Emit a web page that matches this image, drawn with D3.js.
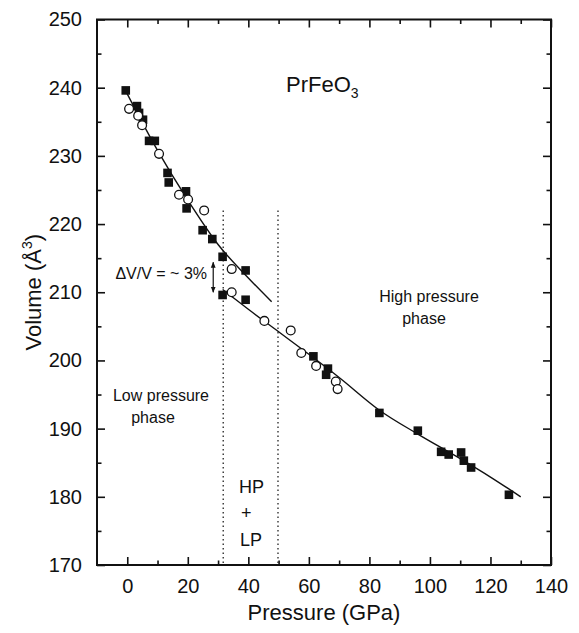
<!DOCTYPE html>
<html>
<head>
<meta charset="utf-8">
<script src="https://cdn.jsdelivr.net/npm/d3@7"></script>
<style>
  body { margin: 0; background: #fff; }
  svg text { font-family: "Liberation Sans", Arial, Helvetica, sans-serif; fill: #111; }
</style>
</head>
<body>
<div id="chart"></div>
<script>
// ---- data ----
const xTicks = [0, 20, 40, 60, 80, 100, 120, 140];
const xMinor = [10, 30, 50, 70, 90, 110, 130];
const yTicks = [170, 180, 190, 200, 210, 220, 230, 240, 250];
const yMinor = [175, 185, 195, 205, 215, 225, 235, 245];

// filled squares [P (GPa), V (A^3)]
const squares = [
  [-0.5, 239.6], [3.2, 237.3], [3.9, 236.3], [5.2, 235.3], [7.2, 232.2],
  [9.1, 232.2], [13.3, 227.5], [13.7, 226.1], [19.4, 224.8], [19.6, 222.3],
  [24.9, 219.1], [28.1, 217.8], [31.5, 215.2], [39.1, 213.2], [31.5, 209.6],
  [39.1, 208.9], [61.5, 200.6], [66.3, 198.8], [65.7, 197.9], [83.3, 192.3],
  [96.0, 189.7], [103.7, 186.6], [106.2, 186.2], [110.3, 186.5], [111.2, 185.3],
  [113.6, 184.3], [126.1, 180.3]
];

// open circles
const circles = [
  [0.6, 236.9], [3.6, 235.9], [4.9, 234.5], [10.5, 230.3], [17.1, 224.3],
  [20.1, 223.6], [25.4, 222.0], [34.5, 213.4], [34.5, 210.0], [45.3, 205.8],
  [54.0, 204.4], [57.5, 201.1], [62.4, 199.2], [68.9, 196.9], [69.5, 195.8]
];

// fitted curves
const lpFit = [[-0.5, 239.5], [10, 230.8], [20, 223.5], [30, 217.0], [40, 212.1], [47.7, 208.6]];
const hpFit = [[31.5, 210.4], [40, 207.5], [50, 204.2], [60, 200.9], [70, 197.5],
               [83.3, 192.7], [96, 189.2], [110, 185.6], [120, 182.9], [130, 180.0]];

const phaseBounds = [31.7, 49.8];   // dotted lines
const boundTop = 222;
const jump = [28.4, 214.4, 210.0];  // P, V top, V bottom of the arrow

// ---- layout ----
const W = 579, H = 633;
const margin = {top: 19.5, right: 28, bottom: 68, left: 97};
const width = W - margin.left - margin.right;
const height = H - margin.top - margin.bottom;

const svg = d3.select("#chart").append("svg")
    .attr("width", W)
    .attr("height", H);

const defs = svg.append("defs");
defs.append("marker")
    .attr("id", "arrow")
    .attr("viewBox", "0 0 10 10")
    .attr("refX", 9).attr("refY", 5)
    .attr("markerWidth", 6).attr("markerHeight", 6)
    .attr("markerUnits", "userSpaceOnUse")
    .attr("orient", "auto-start-reverse")
    .append("path")
    .attr("d", "M0,1L10,5L0,9Z")
    .attr("fill", "#111");

const g = svg.append("g")
    .attr("transform", "translate(" + margin.left + "," + margin.top + ")");

const x = d3.scaleLinear().domain([-10, 140]).range([0, width]);
const y = d3.scaleLinear().domain([170, 250]).range([height, 0]);

// ---------------------------//
//        AXES / FRAME        //
// ---------------------------//
function styleAxis(sel) {
  sel.select(".domain").remove();
  sel.selectAll(".tick line").attr("stroke", "#111").attr("stroke-width", 1.6);
  sel.selectAll(".tick text").attr("font-size", 20).attr("fill", "#111");
}

g.append("g").attr("transform", "translate(0," + height + ")")
    .call(d3.axisBottom(x).tickValues(xTicks).tickSize(-8).tickPadding(14).tickFormat(d3.format("d")))
    .call(styleAxis);
g.append("g").attr("transform", "translate(0," + height + ")")
    .call(d3.axisBottom(x).tickValues(xMinor).tickSize(-4.5).tickFormat(""))
    .call(styleAxis);
g.append("g")
    .call(d3.axisTop(x).tickValues(xTicks).tickSize(-8).tickFormat(""))
    .call(styleAxis);
g.append("g")
    .call(d3.axisTop(x).tickValues(xMinor).tickSize(-4.5).tickFormat(""))
    .call(styleAxis);

g.append("g")
    .call(d3.axisLeft(y).tickValues(yTicks).tickSize(-8).tickPadding(15).tickFormat(d3.format("d")))
    .call(styleAxis);
g.append("g")
    .call(d3.axisLeft(y).tickValues(yMinor).tickSize(-4.5).tickFormat(""))
    .call(styleAxis);
g.append("g").attr("transform", "translate(" + width + ",0)")
    .call(d3.axisRight(y).tickValues(yTicks).tickSize(-8).tickFormat(""))
    .call(styleAxis);
g.append("g").attr("transform", "translate(" + width + ",0)")
    .call(d3.axisRight(y).tickValues(yMinor).tickSize(-4.5).tickFormat(""))
    .call(styleAxis);

g.append("rect")
    .attr("width", width).attr("height", height)
    .attr("fill", "none").attr("stroke", "#111").attr("stroke-width", 2);

// axis titles
svg.append("text")
    .attr("x", margin.left + width / 2)
    .attr("y", 620)
    .attr("text-anchor", "middle")
    .attr("font-size", 22)
    .text("Pressure (GPa)");

const yt = svg.append("text")
    .attr("transform", "translate(41," + (margin.top + height / 2) + ") rotate(-90)")
    .attr("text-anchor", "middle")
    .attr("font-size", 22);
yt.append("tspan").text("Volume (Å");
yt.append("tspan").attr("font-size", 14).attr("dy", -9).text("3");
yt.append("tspan").attr("dy", 9).text(")");

// ---------------------------//
//      PHASE BOUNDARIES      //
// ---------------------------//
g.selectAll(".bound")
    .data(phaseBounds)
    .enter()
    .append("line")
    .attr("x1", d => x(d)).attr("x2", d => x(d))
    .attr("y1", y(boundTop)).attr("y2", height)
    .attr("stroke", "#222")
    .attr("stroke-width", 1.3)
    .attr("stroke-dasharray", "1.5,3");

// ---------------------------//
//          FIT LINES         //
// ---------------------------//
const line = d3.line()
    .x(d => x(d[0]))
    .y(d => y(d[1]))
    .curve(d3.curveMonotoneX);

[lpFit, hpFit].forEach(function(fit) {
  g.append("path")
      .datum(fit)
      .attr("d", line)
      .attr("fill", "none")
      .attr("stroke", "#111")
      .attr("stroke-width", 1.4);
});

// ---------------------------//
//           POINTS           //
// ---------------------------//
const sq = 8.6;
g.append("g")
    .selectAll("rect")
    .data(squares)
    .enter()
    .append("rect")
    .attr("x", d => x(d[0]) - sq / 2)
    .attr("y", d => y(d[1]) - sq / 2)
    .attr("width", sq).attr("height", sq)
    .attr("fill", "#111");

g.append("g")
    .selectAll("circle")
    .data(circles)
    .enter()
    .append("circle")
    .attr("cx", d => x(d[0]))
    .attr("cy", d => y(d[1]))
    .attr("r", 4.4)
    .attr("fill", "#fff")
    .attr("stroke", "#111")
    .attr("stroke-width", 1.3);

// ---------------------------//
//         ANNOTATIONS        //
// ---------------------------//
g.append("line")
    .attr("x1", x(jump[0])).attr("x2", x(jump[0]))
    .attr("y1", y(jump[1])).attr("y2", y(jump[2]))
    .attr("stroke", "#111").attr("stroke-width", 1.2)
    .attr("marker-start", "url(#arrow)")
    .attr("marker-end", "url(#arrow)");

svg.append("text")
    .attr("x", 207).attr("y", 279)
    .attr("text-anchor", "end")
    .attr("font-size", 16)
    .text("ΔV/V = ~ 3%");

const title = svg.append("text")
    .attr("x", 286).attr("y", 92)
    .attr("font-size", 22);
title.append("tspan").text("PrFeO");
title.append("tspan").attr("font-size", 14).attr("dy", 6).text("3");

svg.append("text").attr("x", 429).attr("y", 302)
    .attr("text-anchor", "middle").attr("font-size", 16).text("High pressure");
svg.append("text").attr("x", 424).attr("y", 324)
    .attr("text-anchor", "middle").attr("font-size", 16).text("phase");

svg.append("text").attr("x", 161).attr("y", 401)
    .attr("text-anchor", "middle").attr("font-size", 16).text("Low pressure");
svg.append("text").attr("x", 153).attr("y", 423)
    .attr("text-anchor", "middle").attr("font-size", 16).text("phase");

svg.append("text").attr("x", 239).attr("y", 493).attr("font-size", 18).text("HP");
svg.append("text").attr("x", 241).attr("y", 519).attr("font-size", 18).text("+");
svg.append("text").attr("x", 240).attr("y", 546).attr("font-size", 18).text("LP");
</script>
</body>
</html>
